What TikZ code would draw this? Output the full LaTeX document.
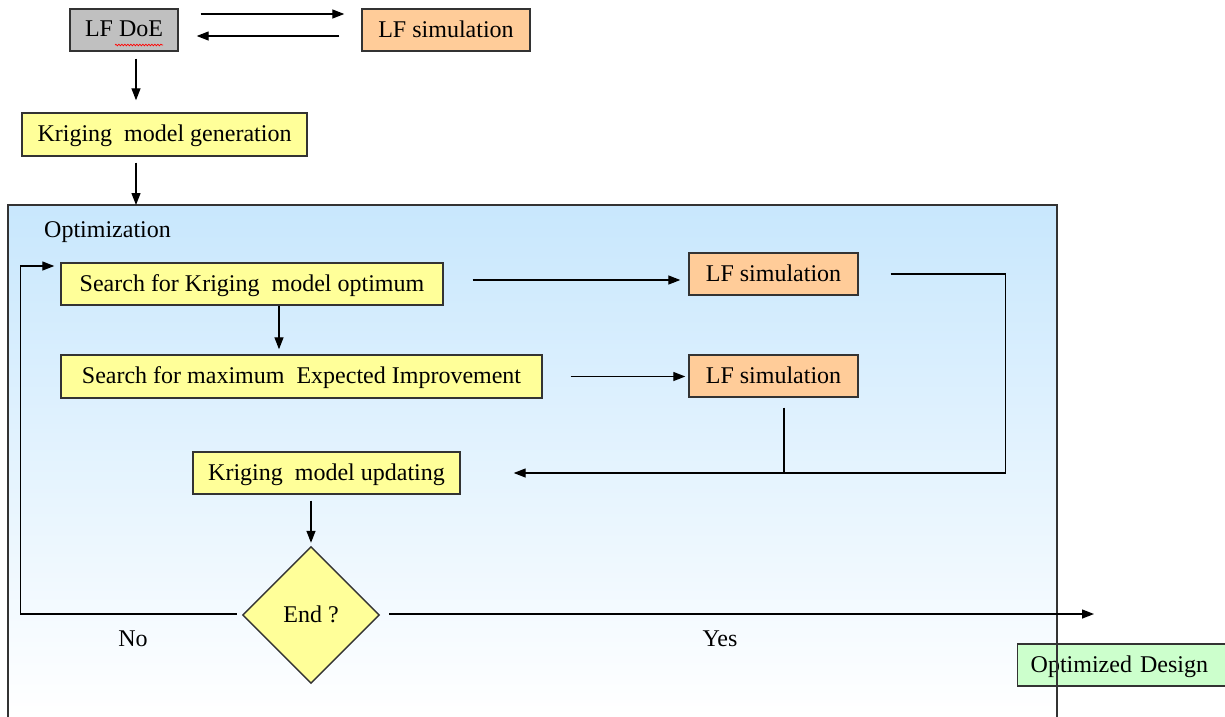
\documentclass[tikz,border=0pt]{standalone}
\usepackage{fontspec}
\setmainfont{Liberation Serif}
\usetikzlibrary{arrows.meta,shapes.geometric,decorations.pathmorphing}
\definecolor{linec}{HTML}{333333}
\definecolor{boxyellow}{HTML}{FFFF99}
\definecolor{boxorange}{HTML}{FFCC99}
\definecolor{boxgray}{HTML}{C0C0C0}
\definecolor{boxgreen}{HTML}{CCFFCC}
\definecolor{frameblue}{HTML}{C8E7FD}
\newcommand{\fs}{\fontsize{24}{28}\selectfont}
\tikzset{
  box/.style={draw=linec, line width=1.4pt, minimum height=42pt, inner sep=0pt, font=\fs, text=black, text depth=2pt},
  ybox/.style={box, fill=boxyellow},
  obox/.style={box, fill=boxorange},
  arr/.style={draw=black, line width=1.3pt, -{Triangle[length=12pt,width=9pt]}},
  ln/.style={draw=black, line width=1.3pt},
  lbl/.style={font=\fs, inner sep=0pt, text=black},
}
\begin{document}
\begin{tikzpicture}[x=1pt,y=-1pt]
\useasboundingbox (0,0) rectangle (1225,716);
\clip (0,0) rectangle (1225,716);
\fill[white] (0,0) rectangle (1225,716);

% optimization frame (fill)
\shade[top color=frameblue, bottom color=white] (8,205) rectangle (1057,716);
\node[lbl, anchor=west] (optlabel) at (44,232) {Optimization};

% nodes
\node[box, fill=boxgray, minimum width=108pt] (doe) at (124,30) {LF DoE};
\node[obox, minimum width=168pt] (sim0) at (446,30) {LF simulation};
\node[ybox, minimum width=285pt, minimum height=43pt] (gen) at (164.5,134.5) {Kriging\ \ model generation};
\node[ybox, minimum width=382pt] (opt1) at (252,284) {Search for Kriging\ \ model optimum};
\node[obox, minimum width=169pt] (sim1) at (773.5,274) {LF simulation};
\node[ybox, minimum width=481pt, minimum height=43pt] (opt2) at (301.5,376.5) {Search for maximum\ \ Expected Improvement};
\node[obox, minimum width=169pt] (sim2) at (773.5,376) {LF simulation};
\node[ybox, minimum width=267pt] (upd) at (326.5,473) {Kriging\ \ model updating};
\node[box, fill=boxyellow, shape=diamond, aspect=1, minimum width=137pt, minimum height=137pt] (endq) at (311,615) {End ?};
\node[box, fill=boxgreen, anchor=west, text width=197pt, inner xsep=13pt, align=left] (design) at (1017,665) {Optimized Design};

% frame border drawn on top
\draw[draw=linec, line width=1.4pt] (8,730) -- (8,205) -- (1057,205) -- (1057,730);
\coordinate (frametop) at (136,205);
\coordinate (yesend) at (1094,614);

% spell-check squiggle
\draw[red, line width=0.7pt, decorate, decoration={snake, amplitude=0.8pt, segment length=3pt}]
  ([xshift=-9pt,yshift=-15pt]doe.center) -- ([xshift=39pt,yshift=-15pt]doe.center);

% connectors
\draw[arr, shorten <=22pt, shorten >=17pt] ([yshift=16pt]doe.east) -- ([yshift=16pt]sim0.west);
\draw[arr, shorten <=22pt, shorten >=18pt] ([yshift=-6pt]sim0.west) -- ([yshift=-6pt]doe.east);
\draw[arr, shorten <=7pt, shorten >=12pt] ([xshift=12pt]doe.south) -- ([xshift=12pt]doe.south |- gen.north);
\draw[arr, shorten <=6pt] (gen.south -| frametop) -- (frametop);
\draw[arr, shorten <=29pt, shorten >=8pt] ([yshift=4pt]opt1.east) -- ([yshift=4pt]opt1.east -| sim1.west);
\draw[arr, shorten >=5pt] ([xshift=27pt]opt1.south) -- ([xshift=27pt]opt1.south |- opt2.north);
\draw[arr, shorten <=28pt, shorten >=3pt] (opt2.east) -- (opt2.east -| sim2.west);
\draw[arr, shorten <=32pt, shorten >=53pt] (sim1.east) -- ++(147,0) |- (upd.east);
\draw[ln, shorten <=10pt] ([xshift=10.5pt]sim2.south) -- ([xshift=10.5pt]sim2.south |- upd.east);
\draw[arr, shorten <=6pt, shorten >=3pt] (upd.south -| endq.north) -- (endq.north);
\draw[arr, shorten <=5pt, shorten >=6pt] ([yshift=1pt]endq.west) -- ++(-221,0) |- ([yshift=18pt]opt1.west);
\draw[arr, shorten <=9pt] ([yshift=1pt]endq.east) -- (yesend);

% labels
\node[lbl] (nolbl) at (133,639) {No};
\node[lbl] (yeslbl) at (720,639) {Yes};
\end{tikzpicture}
\end{document}
